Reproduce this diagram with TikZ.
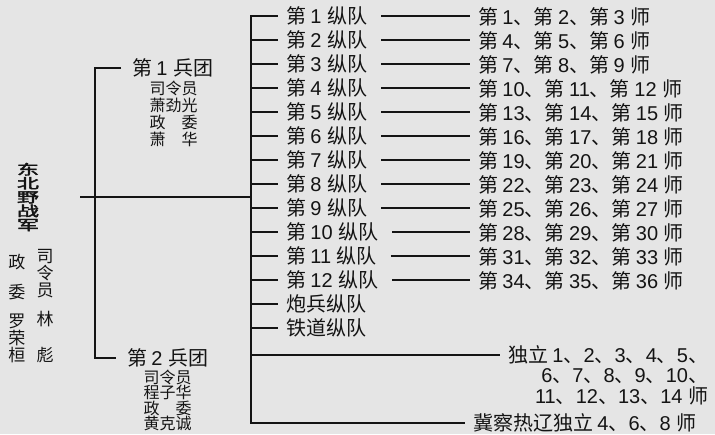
\documentclass[tikz,border=0pt]{standalone}
\usepackage{fontspec}
\setmainfont{Noto Sans CJK SC}[AutoFakeBold=2.5]
\newfontfamily\cjkfont{Noto Sans CJK SC}[AutoFakeBold=2.5]
\newfontfamily\latinfont{Liberation Sans}
% digits in Liberation Sans, Chinese in Noto Sans CJK
\XeTeXinterchartokenstate=1
\newXeTeXintercharclass\cjkclass
\count255="3000
\loop\ifnum\count255<"3040 \XeTeXcharclass\count255=\cjkclass \advance\count255 by 1 \repeat
\count255="4E00
\loop\ifnum\count255<"A000 \XeTeXcharclass\count255=\cjkclass \advance\count255 by 1 \repeat
\XeTeXinterchartoks 0 \cjkclass={\cjkfont}
\XeTeXinterchartoks 4095 \cjkclass={\cjkfont}
\XeTeXinterchartoks \cjkclass 0={\latinfont}
\XeTeXinterchartoks 4095 0={\latinfont}
\usetikzlibrary{positioning}
\definecolor{paper}{gray}{0.9}
\definecolor{ink}{gray}{0.08}

\begin{document}
\begin{tikzpicture}[x=1pt,y=-1pt]
\tikzset{every node/.style={text=ink, inner sep=0pt}}
\tikzset{army/.style={font=\fontsize{20}{20}\selectfont, anchor=west, outer xsep=11pt}}
\tikzset{staff/.style={font=\fontsize{16}{17}\selectfont, align=center}}
\tikzset{chief/.style={font=\fontsize{17}{17}\selectfont, align=center, anchor=north}}
\tikzset{corps/.style={font=\fontsize{20}{20}\selectfont, anchor=west, outer xsep=8pt}}
\tikzset{link/.style={draw=ink, line width=1.2pt}}
\fill[paper] (0,0) rectangle (715,434);
\useasboundingbox (0,0) rectangle (715,434);

\node[font=\bfseries\fontsize{22}{22}\selectfont, align=center, yscale=0.63] (nefa) at (28,197) {东\\北\\野\\战\\军};
\node[chief] (nefapol) at (17,254) {政\\[13pt]委\\[12pt]罗\\荣\\桓};
\node[chief] (nefacmd) at (45,249) {司\\令\\员\\[12pt]林\\[19pt]彪};

\node[army] (bt1) at (121,68) {第 1 兵团};
\node[staff, below=3pt of bt1, xshift=1pt] (bt1staff) {司令员\\萧劲光\\政　委\\萧　华};
\node[army] (bt2) at (116,358) {第 2 兵团};
\node[staff, below=2pt of bt2, font=\fontsize{16}{15.5}\selectfont] (bt2staff) {司令员\\程子华\\政　委\\黄克诚};

\coordinate (rootend) at (80,197);
\coordinate (fork) at (95,197);
\coordinate (trunk) at (251,197);
\draw[link] (rootend) -- (trunk);
\draw[link] (bt1.west) -| (fork) |- (bt2.west);

\foreach \cname [count=\i] in {第 1 纵队, 第 2 纵队, 第 3 纵队, 第 4 纵队, 第 5 纵队, 第 6 纵队,
    第 7 纵队, 第 8 纵队, 第 9 纵队, 第 10 纵队, 第 11 纵队, 第 12 纵队, 炮兵纵队, 铁道纵队}{
  \node[corps] (col\i) at (278,{16+24*(\i-1)}) {\cname};
  \draw[link] (trunk) |- (col\i.west);
}
\foreach \dname [count=\i] in {第 1、第 2、第 3 师, 第 4、第 5、第 6 师, 第 7、第 8、第 9 师,
    第 10、第 11、第 12 师, 第 13、第 14、第 15 师, 第 16、第 17、第 18 师,
    第 19、第 20、第 21 师, 第 22、第 23、第 24 师, 第 25、第 26、第 27 师,
    第 28、第 29、第 30 师, 第 31、第 32、第 33 师, 第 34、第 35、第 36 师}{
  \node[corps] (div\i) at (470,{17+24*(\i-1)}) {\dname};
  \draw[link, shorten <=6pt] (col\i.east) -- (col\i.east -| div\i.west);
}

\node[corps] (indep) at (500,355) {独立 1、2、3、4、5、};
\node[corps, below=4pt of indep.south east, anchor=north east] (indep2) {6、7、8、9、10、};
\node[corps, below=3pt of indep2.south east, anchor=north east] (indep3) {11、12、13、14 师};
\draw[link] (trunk) |- (indep.west);

\node[corps] (jcrl) at (465,423) {冀察热辽独立 4、6、8 师};
\draw[link] (trunk) |- (jcrl.west);
\end{tikzpicture}
\end{document}
